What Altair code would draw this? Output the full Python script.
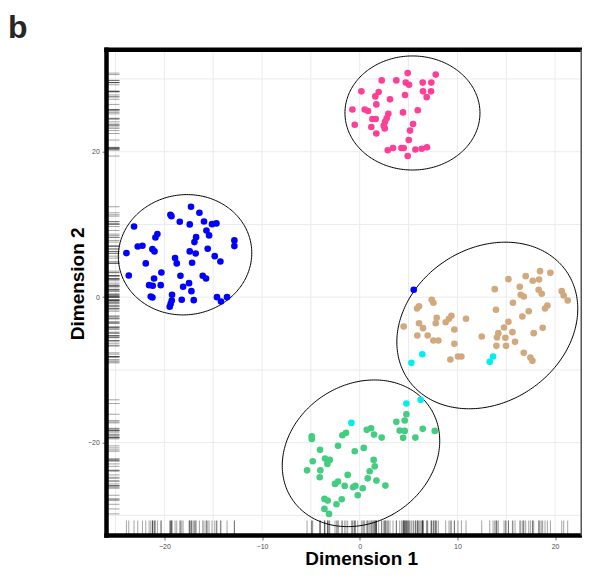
import altair as alt
import numpy as np
import pandas as pd

# ---------------- data ----------------
pink_x = [4.91, 7.78, 2.25, 3.75, 4.71, 5.05, 6.45, 7.33, 0.17, 1.94, 1.60, 6.48, 7.30, 6.86, 4.64, 3.10,
          1.70, -0.75, 0.51, 0.85, 5.94, 4.43, 2.93, 2.76, 1.30, 1.64, 2.59, -0.51, 1.19, 2.46, 2.56, 5.46,
          5.15, 1.70, 5.02, 2.87, 3.41, 4.27, 4.50, 5.70, 6.35, 6.89, 4.91]
pink_y = [30.8, 30.6, 29.8, 29.8, 29.5, 29.2, 29.5, 29.5, 28.3, 28.2, 27.6, 28.3, 28.3, 27.5, 27.8, 27.2,
          26.5, 25.8, 25.8, 25.6, 25.7, 25.4, 25.2, 24.6, 24.5, 24.5, 24.1, 23.7, 23.4, 23.6, 23.2, 23.8,
          22.9, 22.5, 21.6, 20.2, 20.5, 20.5, 20.5, 20.3, 20.4, 20.6, 19.4]

blue_x = [-17.27, -19.38, -19.27, -16.41, -18.42, -17.40, -15.94, -15.12, -14.67, -23.10, -15.69, -15.42,
          -20.71, -20.91, -16.75, -16.92, -22.72, -22.24, -21.22, -21.01, -15.56, -17.40, -16.79, -23.88,
          -14.84, -14.26, -12.83, -12.83, -18.90, -18.73, -21.90, -17.16, -20.30, -23.64, -21.05, -18.35,
          -16.07, -15.73, -21.56, -21.19, -20.37, -17.47, -18.08, -17.23, -21.39, -21.22, -19.21, -19.24,
          -19.35, -19.45, -18.22, -16.99, -14.61, -14.20, -13.58, 5.53]
blue_y = [12.43, 11.33, 11.14, 11.60, 10.37, 10.00, 10.41, 10.04, 10.14, 9.72, 9.17, 8.49,
          8.67, 8.21, 8.25, 7.57, 6.97, 7.07, 6.60, 6.29, 6.66, 6.29, 6.01, 6.05,
          5.64, 4.91, 7.80, 7.02, 5.37, 4.64, 4.64, 4.73, 3.40, 2.98, 2.57, 2.94,
          2.94, 2.57, 1.65, 1.57, 1.65, 1.93, 1.43, 0.83, 0.10, -0.04, 0.33, -0.45,
          -0.91, -1.32, -0.36, -0.41, 0.00, -0.59, 0.00, 1.02]

tan_x = [18.46, 19.52, 16.99, 15.22, 17.71, 18.36, 13.82, 16.38, 18.32, 18.63, 16.48, 16.79, 20.68, 20.88,
         21.29, 15.69, 19.21, 18.97, 7.37, 7.54, 6.07, 5.87, 13.95, 17.30, 16.65, 7.88, 7.78, 9.39, 9.14,
         8.80, 10.88, 15.22, 14.77, 6.07, 6.48, 4.50, 9.69, 15.63, 18.73, 17.81, 14.19, 14.05, 14.91, 12.49,
         5.90, 6.96, 7.54, 8.05, 15.90, 9.69, 13.99, 14.98, 16.79, 17.47, 17.68, 9.28, 10.06, 10.41]
tan_y = [3.58, 3.35, 2.89, 2.48, 2.26, 2.43, 1.10, 1.43, 1.02, 0.47, 0.33, 0.10, 0.83, 0.23,
         -0.45, -0.77, -1.14, -1.55, -0.36, -0.77, -1.24, -1.55, -1.73, -1.93, -2.65, -2.83, -3.58, -2.56, -2.97,
         -3.44, -2.97, -3.38, -4.17, -3.58, -4.26, -4.03, -4.44, -4.81, -4.21, -4.95, -4.95, -5.54, -5.58, -5.41,
         -5.27, -5.27, -5.96, -5.96, -6.14, -6.41, -6.69, -6.69, -7.65, -8.29, -8.75, -8.57, -8.16, -8.16]

green_x = [-4.91, -4.91, -4.06, -4.81, -5.39, -4.03, -4.09, -3.55, -3.24, -3.07, -3.31, -2.22, -1.77, -1.40,
           -0.51, 0.41, 0.72, 1.16, 1.47, 2.25, 3.75, 4.61, 4.78, 4.09, 4.61, 4.44, 5.70, 6.45, 7.68,
           1.43, 1.54, 1.02, 0.82, 1.71, 2.63, -1.23, -2.53, -2.22, -1.54, -0.68, -0.44, 0.31, -0.20,
           -3.61, -3.28, -1.84, -2.38, -3.61, -3.14]
green_y = [-19.12, -19.48, -20.99, -22.56, -23.80, -23.80, -24.76, -22.19, -22.42, -22.37, -22.92, -20.44,
           -18.98, -18.65, -21.18, -20.72, -18.24, -18.02, -18.89, -19.30, -17.14, -16.96, -16.09, -18.34,
           -18.38, -19.34, -19.30, -18.10, -18.38, -22.37, -23.25, -23.93, -24.90, -25.21, -25.90, -24.43,
           -25.67, -25.35, -25.94, -26.13, -25.94, -26.27, -27.23, -27.73, -27.96, -27.78, -28.47, -29.11, -29.79]

cyan_x = [6.41, 5.29, 13.65, 13.31, -0.85, 4.78, 6.24]
cyan_y = [-7.84, -9.03, -8.16, -8.89, -17.28, -14.62, -14.11]

groups = ["pink", "blue", "tan", "green", "cyan"]
group_colors = ["#FF3E96", "#0000FF", "#D2A97C", "#43CD80", "#00EEEE"]

# ellipse outlines: centre, half-extent along each axis, correlation
ell_cx = [5.40, -17.88, 13.06, 0.13]
ell_cy = [25.32, 5.83, -3.89, -21.46]
ell_sx = [6.91, 6.83, 9.26, 8.06]
ell_sy = [7.84, 8.27, 11.45, 10.08]
ell_rho = [0.0, 0.03, 0.20, 0.17]

x_ticks = [-20, -10, 0, 10, 20]
y_ticks = [-20, 0, 20]
x_grid = [-25, -20, -15, -10, -5, 0, 5, 10, 15, 20]
y_grid = [-30, -20, -10, 0, 10, 20, 30]
x_domain = [-25.92, 23.47]
y_domain = [-32.76, 34.02]

# ---------------- tables ----------------
pts = pd.concat([
    pd.DataFrame({"d1": xs_, "d2": ys_, "grp": g})
    for xs_, ys_, g in [(pink_x, pink_y, "pink"), (blue_x, blue_y, "blue"), (tan_x, tan_y, "tan"),
                        (green_x, green_y, "green"), (cyan_x, cyan_y, "cyan")]
], ignore_index=True)

t = np.linspace(0, 2 * np.pi, 241)
ell_rows = []
for i in range(len(ell_cx)):
    ex = ell_cx[i] + ell_sx[i] * np.cos(t)
    ey = ell_cy[i] + ell_sy[i] * (ell_rho[i] * np.cos(t) + np.sqrt(1 - ell_rho[i] ** 2) * np.sin(t))
    for k in range(len(t)):
        ell_rows.append({"eid": i, "k": k, "ex": ex[k], "ey": ey[k]})
ell = pd.DataFrame(ell_rows)

PANEL_W = 482.5          # full panel width (cropped on the right like the reference)
W, H = 475.5, 485.8      # visible plot area
FONT = "Liberation Sans"
xs = alt.Scale(domain=x_domain, nice=False, zero=False, range=[0, PANEL_W])
ys = alt.Scale(domain=y_domain, nice=False, zero=False)

x_axis = alt.Axis(values=x_ticks, title="Dimension 1", grid=False, domain=False,
                  labelFontSize=7, labelColor="#4D4D4D", labelFont=FONT, labelPadding=2.2,
                  tickColor="#333333", tickSize=4.5, tickWidth=0.7,
                  titleFont=FONT, titleFontSize=19, titleFontWeight="bold", titleColor="black",
                  titleX=254.7, titleY=29.3, titleBaseline="alphabetic", titleAlign="center")
y_axis = alt.Axis(values=y_ticks, title="Dimension 2", grid=False, domain=False,
                  labelFontSize=7, labelColor="#4D4D4D", labelFont=FONT, labelPadding=2.7,
                  tickColor="#333333", tickSize=4.5, tickWidth=0.7,
                  titleFont=FONT, titleFontSize=19, titleFontWeight="bold", titleColor="black",
                  titleX=-23.2, titleY=233.6, titleBaseline="alphabetic", titleAlign="center", titleAngle=270)


def X(field):
    return alt.X(field, type="quantitative", scale=xs, axis=x_axis)


def Y(field):
    return alt.Y(field, type="quantitative", scale=ys, axis=y_axis)


points = alt.Chart(pts).mark_circle(size=44, opacity=1).encode(
    x=X("d1"), y=Y("d2"),
    color=alt.Color("grp:N", scale=alt.Scale(domain=groups, range=group_colors), legend=None))

gx = alt.Chart(pd.DataFrame({"gx": x_grid})).mark_rule(color="#EBEBEB", strokeWidth=1).encode(x=X("gx"))
gy = alt.Chart(pd.DataFrame({"gy": y_grid})).mark_rule(color="#EBEBEB", strokeWidth=1).encode(
    y=Y("gy"), x=alt.value(0), x2=alt.value(PANEL_W))

rug_b = alt.Chart(pts).mark_rule(color="black", opacity=0.45, strokeWidth=0.8).encode(
    x=X("d1"), y=alt.value(H - 15), y2=alt.value(H))
rug_l = alt.Chart(pts).mark_rule(color="black", opacity=0.45, strokeWidth=0.8).encode(
    y=Y("d2"), x=alt.value(0), x2=alt.value(13))

ellipses = alt.Chart(ell).mark_line(color="black", strokeWidth=1).encode(
    x=X("ex"), y=Y("ey"), detail="eid:N", order="k:Q")

dummy = pd.DataFrame({"d": [0]})
frame_top = alt.Chart(dummy).mark_rule(color="black", strokeWidth=4.5, strokeCap="square").encode(
    x=alt.value(0), x2=alt.value(PANEL_W), y=alt.value(0))
frame_left = alt.Chart(dummy).mark_rule(color="black", strokeWidth=4.5, strokeCap="square").encode(
    x=alt.value(0), y=alt.value(0), y2=alt.value(H))
frame_bottom = alt.Chart(dummy).mark_rule(color="black", strokeWidth=4.5, strokeCap="square").encode(
    x=alt.value(0), x2=alt.value(PANEL_W), y=alt.value(H))
frame_right = alt.Chart(dummy).mark_rule(color="#555555", strokeWidth=1.5).encode(
    x=alt.value(W - 0.75), y=alt.value(0), y2=alt.value(H))

panel_label = alt.Chart(pd.DataFrame({"lab": ["b"]})).mark_text(
    align="left", baseline="alphabetic", fontSize=32, fontWeight="bold", font=FONT, color="#262626").encode(
    x=alt.value(-98.5), y=alt.value(-11.4), text="lab:N")

chart = alt.layer(gx, gy, rug_b, rug_l, ellipses, points,
                  frame_top, frame_left, frame_bottom, frame_right, panel_label).properties(
    width=W, height=H,
    autosize=alt.AutoSizeParams(type="none"),
    padding={"left": 98.5, "top": 41.7, "right": 0, "bottom": 33.4},
).configure_view(stroke="transparent")

chart.save("out.html", embed_options={"renderer": "svg", "actions": False})
